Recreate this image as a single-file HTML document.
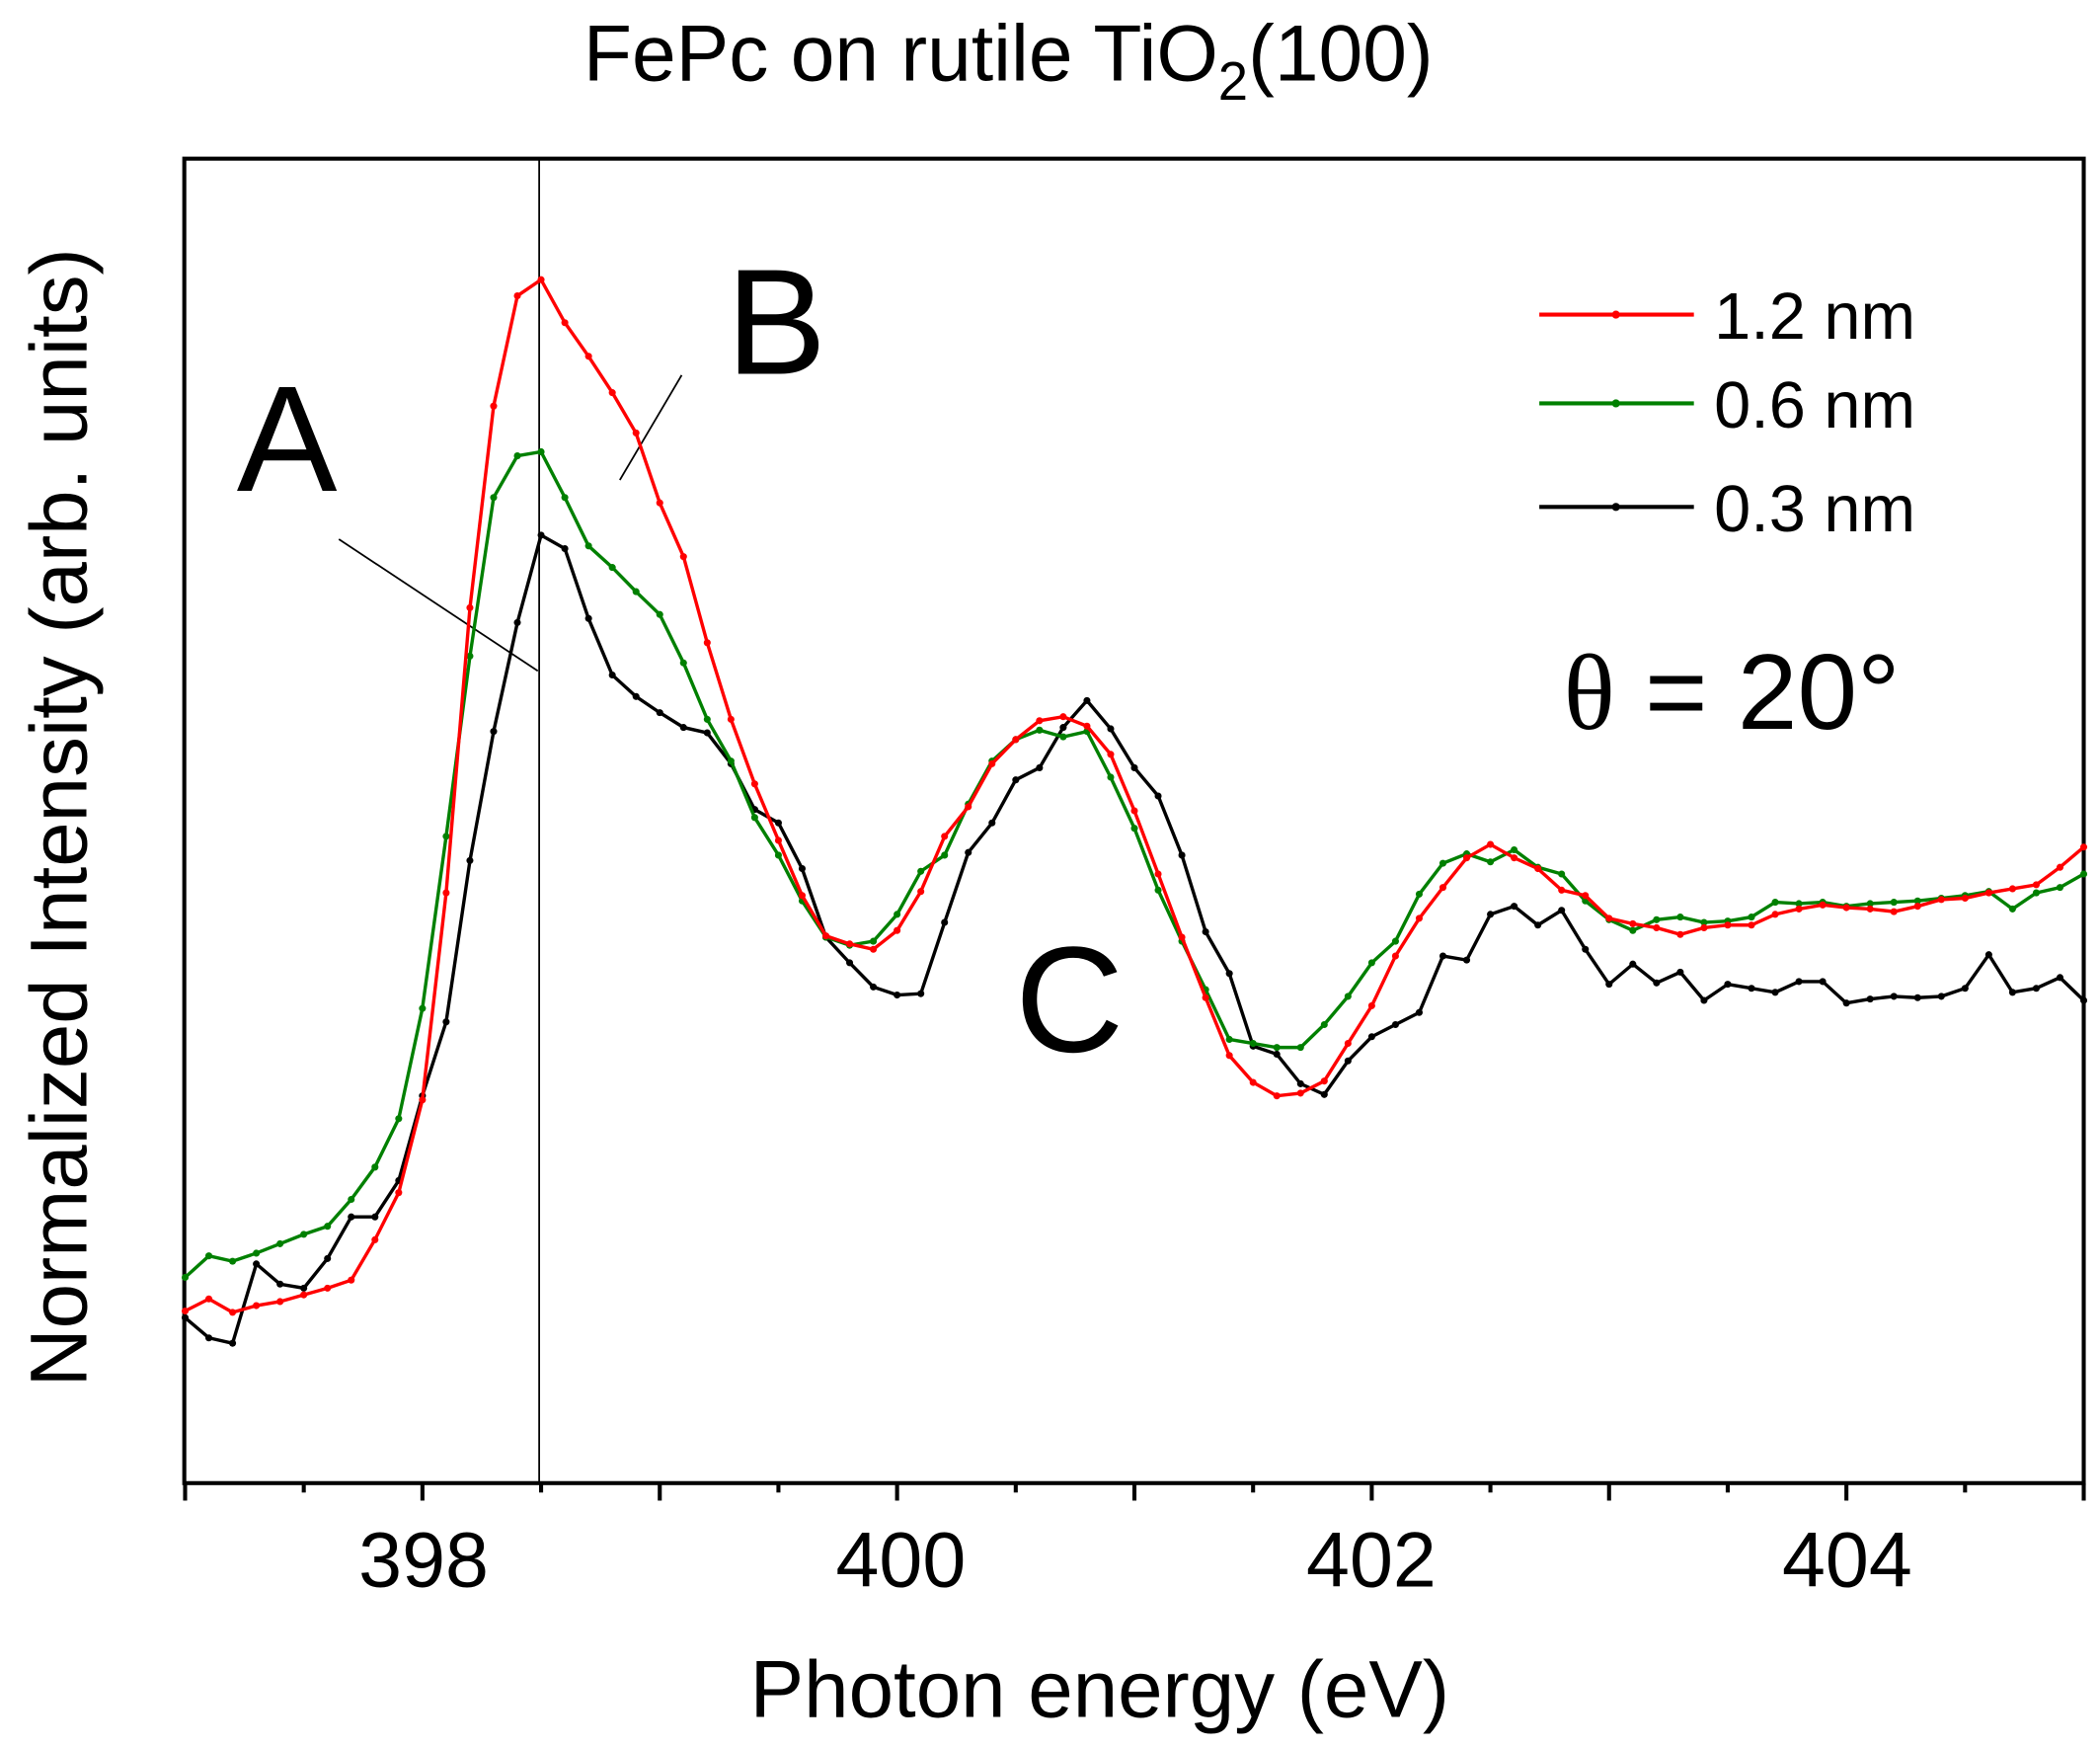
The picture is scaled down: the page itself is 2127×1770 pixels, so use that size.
<!DOCTYPE html>
<html><head><meta charset="utf-8"><style>html,body{margin:0;padding:0;background:#fff}svg{display:block}</style></head>
<body>
<svg id="s" xmlns="http://www.w3.org/2000/svg" width="2127" height="1770" viewBox="0 0 1562 1300" font-family="Liberation Sans, Arial, sans-serif">
<rect width="1562" height="1300" fill="#fff"/>
<text x="750" y="60" font-size="59" text-anchor="middle">FePc on rutile TiO<tspan font-size="40" dy="14">2</tspan><tspan dy="-14">(100)</tspan></text>
<rect x="137" y="118" width="1413" height="985" fill="none" stroke="#000" stroke-width="3"/>
<g id="ticks" stroke="#000" stroke-width="3"></g>
<g font-size="58" text-anchor="middle">
<text x="315" y="1180">398</text><text x="670" y="1180">400</text><text x="1020" y="1180">402</text><text x="1374" y="1180">404</text>
</g>
<text x="818" y="1277" font-size="60" text-anchor="middle">Photon energy (eV)</text>
<text transform="translate(64,608) rotate(-90)" font-size="60" text-anchor="middle">Normalized Intensity (arb. units)</text>
<line x1="401" y1="118" x2="401" y2="1103" stroke="#000" stroke-width="1.3"/>
<line x1="252" y1="401" x2="400" y2="499" stroke="#000" stroke-width="1.3"/>
<line x1="461" y1="357" x2="507" y2="279" stroke="#000" stroke-width="1.3"/>
<g font-size="112"><text x="176" y="365">A</text><text x="540" y="278">B</text><text x="755" y="782">C</text></g>
<text x="1163" y="542" font-size="80"><tspan font-family="Liberation Serif, serif">θ</tspan> = 20°</text>
<g id="series"></g>
<g font-size="49">
<line x1="1145" y1="234" x2="1260" y2="234" stroke="#f00" stroke-width="3"/><circle cx="1202" cy="234" r="3" fill="#f00"/><text x="1275" y="252">1.2 nm</text>
<line x1="1145" y1="300" x2="1260" y2="300" stroke="#008000" stroke-width="3"/><circle cx="1202" cy="300" r="3" fill="#008000"/><text x="1275" y="318">0.6 nm</text>
<line x1="1145" y1="377" x2="1260" y2="377" stroke="#000" stroke-width="3"/><circle cx="1202" cy="377" r="3" fill="#000"/><text x="1275" y="395">0.3 nm</text>
</g>
</svg>
<script>
var NS="http://www.w3.org/2000/svg";
var red=[975,966,976,971,968,963,958,952,922,887,818,664,452,302,220,208,240,265,292,322,374,414,478,535,583,625,666,696,702,706,692,663,622,600,568,550,536,533,540,561,603,650,697,742,785,805,815,813,804,776,748,711,683,660,638,628,638,646,662,666,683,687,690,695,690,688,688,680,676,673,675,676,678,674,669,668,664,661,658,645,630];
var green=[950,934,938,932,925,918,912,892,868,832,750,622,488,370,339,336,370,406,422,440,457,493,535,566,608,636,670,697,703,700,680,648,636,598,566,550,543,548,544,578,616,662,700,736,773,776,779,779,762,741,716,700,665,642,635,641,632,645,650,670,684,692,684,682,686,685,682,671,672,671,674,672,671,670,668,666,663,676,664,660,650];
var black=[980,995,999,940,955,958,936,905,905,878,815,760,640,544,463,398,408,460,502,518,530,541,545,568,602,612,646,697,716,734,740,739,686,634,612,580,571,541,521,542,571,592,636,693,724,778,784,806,814,789,771,762,753,711,714,680,674,688,677,706,732,717,731,723,744,732,735,738,730,730,746,743,741,742,741,735,710,738,735,727,744];
function X(i){return 137.6+i*(1550-137.6)/80;}
var g=document.getElementById("series");
[[black,"#000"],[green,"#008000"],[red,"#f00"]].forEach(function(s){
 var pts=s[0].map(function(y,i){return X(i).toFixed(1)+","+y;}).join(" ");
 var p=document.createElementNS(NS,"polyline");p.setAttribute("points",pts);p.setAttribute("fill","none");p.setAttribute("stroke",s[1]);p.setAttribute("stroke-width","2.5");g.appendChild(p);
 s[0].forEach(function(y,i){var c=document.createElementNS(NS,"circle");c.setAttribute("cx",X(i));c.setAttribute("cy",y);c.setAttribute("r","2.6");c.setAttribute("fill",s[1]);g.appendChild(c);});
});
var t=document.getElementById("ticks");
for(var k=0;k<=16;k++){var e=397+k*0.5;var x=137.6+(e-397)*(1550-137.6)/8;var major=(k%2==0);
 var l=document.createElementNS(NS,"line");l.setAttribute("x1",x);l.setAttribute("x2",x);l.setAttribute("y1",1103);l.setAttribute("y2",major?1116:1110);t.appendChild(l);}
</script>
</body></html>
